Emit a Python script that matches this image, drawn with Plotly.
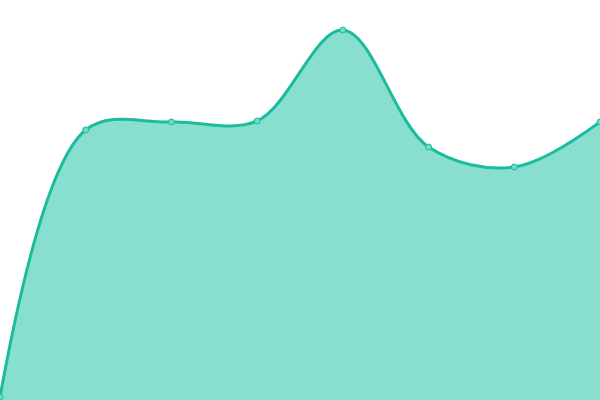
import plotly.graph_objects as go

labels = ["A", "B", "C", "D", "E", "F", "G", "H"]
values = [3, 270, 278, 279, 370, 253, 233, 278]

fig = go.Figure(
    go.Scatter(
        x=list(range(len(labels))),
        y=values,
        mode="lines+markers",
        line=dict(shape="spline", smoothing=1, color="#1abc9c", width=3),
        fill="tozeroy",
        fillcolor="#89dfcf",
        marker=dict(size=6, color="#74d9c3", line=dict(color="#1abc9c", width=1)),
        hoverinfo="skip",
    )
)

fig.update_xaxes(visible=False, range=[0, len(labels) - 1])
fig.update_yaxes(visible=False, range=[0, 400])

fig.update_layout(
    width=600, height=400,
    margin=dict(l=0, r=0, t=0, b=0),
    paper_bgcolor="white", plot_bgcolor="white",
    showlegend=False,
)

# page body has a default 8px margin, drop it so the chart sits at 0,0
fig.write_html(
    "out.html",
    config={"displayModeBar": False},
    post_script="document.body.style.margin='0';",
)
